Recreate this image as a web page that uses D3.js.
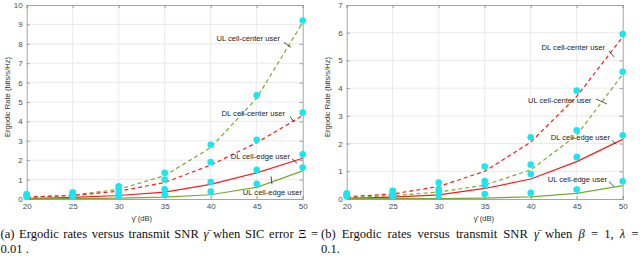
<!DOCTYPE html>
<html>
<head>
<meta charset="UTF-8">
<script src="https://d3js.org/d3.v7.min.js"></script>
<style>
  body { margin: 0; background: #fff; }
  svg { display: block; }
  .tick text { font-family: Helvetica, Arial, 'Liberation Sans', sans-serif; font-size: 8px; fill: #4d4d4d; }
  .lbl { font-family: Helvetica, Arial, 'Liberation Sans', sans-serif; font-size: 7.6px; fill: #333; }
  .note { font-family: Helvetica, Arial, 'Liberation Sans', sans-serif; font-size: 7.6px; fill: #222; }
  .cap { font-family: 'Liberation Serif', 'Times New Roman', serif; font-size: 12.6px; fill: #111; }
</style>
</head>
<body>
<svg id="chart" width="640" height="256"></svg>
<script>
// x 轴 (dB)
const snr = [20, 25, 30, 35, 40, 45, 50];
const xTicks = [20, 25, 30, 35, 40, 45, 50];

// (a) 理论曲线
const aUlCenter = [0.08, 0.2, 0.5, 1.2, 2.65, 5.2, 9.1];
const aDlCenter = [0.1, 0.18, 0.4, 0.85, 1.75, 2.9, 4.3];
const aDlEdge = [0.02, 0.08, 0.18, 0.35, 0.75, 1.35, 2.1];
const aUlEdge = [0.01, 0.02, 0.04, 0.1, 0.22, 0.6, 1.45];
// (a) 仿真点
const aUlCenterSim = [0.25, 0.35, 0.65, 1.35, 2.8, 5.35, 9.2];
const aDlCenterSim = [0.2, 0.3, 0.5, 1.0, 1.9, 3.05, 4.45];
const aDlEdgeSim = [0.15, 0.2, 0.3, 0.5, 0.88, 1.5, 2.3];
const aUlEdgeSim = [0.1, 0.12, 0.15, 0.22, 0.38, 0.78, 1.62];

// (b) 理论曲线
const bDlCenter = [0.08, 0.18, 0.45, 1.0, 2.05, 3.7, 5.85];
const bUlCenter = [0.05, 0.12, 0.25, 0.5, 1.05, 2.3, 4.5];
const bDlEdge = [0.02, 0.07, 0.15, 0.38, 0.72, 1.35, 2.15];
const bUlEdge = [0.005, 0.01, 0.01, 0.03, 0.08, 0.2, 0.48];
// (b) 仿真点
const bDlCenterSim = [0.2, 0.3, 0.59, 1.17, 2.23, 3.91, 5.95];
const bUlCenterSim = [0.2, 0.25, 0.35, 0.65, 1.24, 2.48, 4.59];
const bDlEdgeSim = [0.12, 0.15, 0.25, 0.5, 0.9, 1.51, 2.3];
const bUlEdgeSim = [0.1, 0.1, 0.12, 0.18, 0.22, 0.34, 0.64];

// 标注: 文字末端 (tx, ty), 指示线 (x1,y1)-(x2,y2), 数据坐标
const aNotes = [
  { text: 'UL cell-center user', tx: 47.53, ty: 8.12, x1: 47.97, y1: 8.07, x2: 48.73, y2: 7.82 },
  { text: 'DL cell-center user', tx: 48.08, ty: 4.26, x1: 48.62, y1: 4.26, x2: 49.06, y2: 3.96 },
  { text: 'DL cell-edge user', tx: 48.62, ty: 2.08, x1: 48.84, y1: 2.08, x2: 49.38, y2: 1.83 },
  { text: 'UL cell-edge user', tx: 49.93, ty: 0.2, x1: 46.56, y1: 1.17, x2: 46.66, y2: 0.76 }
];
const bNotes = [
  { text: 'DL cell-center user', tx: 48.08, ty: 5.38, x1: 48.51, y1: 5.34, x2: 49.06, y2: 5.13 },
  { text: 'UL cell-center user', tx: 46.6, ty: 3.46, x1: 47.09, y1: 3.61, x2: 48.29, y2: 3.43 },
  { text: 'DL cell-edge user', tx: 48.62, ty: 2.12, x1: 48.84, y1: 2.12, x2: 49.27, y2: 1.97 },
  { text: 'UL cell-edge user', tx: 48.29, ty: 0.63, x1: 48.51, y1: 0.63, x2: 49.06, y2: 0.45 }
];

const RED = '#ff1a1a';
const GREEN = '#77ac30';
const CYAN = '#19e6f0';

const svg = d3.select('#chart');

function panel(opt) {
  const x = d3.scaleLinear().domain([20, 50]).range([opt.left, opt.left + 276]);
  const y = d3.scaleLinear().domain([0, opt.ymax]).range([199, 5]);
  const g = svg.append('g');
  const yTicks = d3.range(0, opt.ymax + 1);

  // 网格
  g.append('g').selectAll('line').data(xTicks.slice(1, -1)).enter().append('line')
    .attr('x1', d => x(d)).attr('x2', d => x(d)).attr('y1', y(0)).attr('y2', y(opt.ymax))
    .attr('stroke', '#e3e3e3').attr('stroke-width', 0.8);
  g.append('g').selectAll('line').data(yTicks.slice(1, -1)).enter().append('line')
    .attr('x1', x(20)).attr('x2', x(50)).attr('y1', d => y(d)).attr('y2', d => y(d))
    .attr('stroke', '#e3e3e3').attr('stroke-width', 0.8);

  // 坐标轴 (四周都有)
  const axes = [
    [d3.axisBottom(x).tickValues(xTicks).tickSize(-3).tickPadding(4), `translate(0,${y(0)})`, true],
    [d3.axisTop(x).tickValues(xTicks).tickSize(-3), `translate(0,${y(opt.ymax)})`, false],
    [d3.axisLeft(y).tickValues(yTicks).tickSize(-3).tickPadding(4), `translate(${x(20)},0)`, true],
    [d3.axisRight(y).tickValues(yTicks).tickSize(-3), `translate(${x(50)},0)`, false]
  ];
  axes.forEach(([ax, tr, showText]) => {
    const a = g.append('g').attr('transform', tr).call(ax.tickFormat(d3.format('d')));
    a.select('.domain').attr('stroke', '#9a9a9a').attr('stroke-width', 0.9);
    a.selectAll('.tick line').attr('stroke', '#9a9a9a');
    if (!showText) a.selectAll('.tick text').remove();
  });

  // 曲线
  const line = d3.line().x((d, i) => x(snr[i])).y(d => y(d));
  opt.series.forEach(s => {
    g.append('path').datum(s.vals).attr('d', line).attr('fill', 'none')
      .attr('stroke', s.color).attr('stroke-width', 1.2)
      .attr('stroke-dasharray', s.dash ? '4,3' : null);
  });
  // 仿真点
  opt.sims.forEach(vals => {
    g.append('g').selectAll('circle').data(vals).enter().append('circle')
      .attr('cx', (d, i) => x(snr[i])).attr('cy', d => y(d)).attr('r', 3.3)
      .attr('fill', CYAN);
  });

  // 标注
  opt.notes.forEach(n => {
    g.append('text').attr('class', 'note').attr('x', x(n.tx)).attr('y', y(n.ty))
      .attr('text-anchor', 'end').text(n.text);
    g.append('line').attr('x1', x(n.x1)).attr('y1', y(n.y1)).attr('x2', x(n.x2)).attr('y2', y(n.y2))
      .attr('stroke', '#222').attr('stroke-width', 0.8);
  });

  // 轴标题
  g.append('text').attr('class', 'lbl').attr('x', opt.xlabX).attr('y', 221)
    .attr('text-anchor', 'middle').text('γ̄ (dB)');
  g.append('text').attr('class', 'lbl')
    .attr('transform', `translate(${opt.left - 17},97) rotate(-90)`)
    .attr('text-anchor', 'middle').text('Ergodic Rate (bits/s/Hz)');
}

panel({
  left: 26.7, ymax: 10, xlabX: 142, notes: aNotes,
  series: [
    { vals: aUlCenter, color: GREEN, dash: true },
    { vals: aDlCenter, color: RED, dash: true },
    { vals: aDlEdge, color: RED, dash: false },
    { vals: aUlEdge, color: GREEN, dash: false }
  ],
  sims: [aUlCenterSim, aDlCenterSim, aDlEdgeSim, aUlEdgeSim]
});
panel({
  left: 346.7, ymax: 7, xlabX: 484, notes: bNotes,
  series: [
    { vals: bDlCenter, color: RED, dash: true },
    { vals: bUlCenter, color: GREEN, dash: true },
    { vals: bDlEdge, color: RED, dash: false },
    { vals: bUlEdge, color: GREEN, dash: false }
  ],
  sims: [bDlCenterSim, bUlCenterSim, bDlEdgeSim, bUlEdgeSim]
});

// 图注 (两端对齐)
function caption(x0, x1, words, line2) {
  const measure = [];
  words.forEach(w => {
    const t = svg.append('text').attr('class', 'cap').attr('y', 238);
    w.forEach(p => t.append('tspan').attr('font-style', p.it ? 'italic' : null).text(p.s));
    measure.push({ node: t, w: t.node().getComputedTextLength() });
  });
  const total = d3.sum(measure, m => m.w);
  const gap = (x1 - x0 - total) / (measure.length - 1);
  let cx = x0;
  measure.forEach(m => { m.node.attr('x', cx); cx += m.w + gap; });
  svg.append('text').attr('class', 'cap').attr('x', x0).attr('y', 253).text(line2);
}
const W = s => [{ s }];
caption(0.5, 318,
  [W('(a)'), W('Ergodic'), W('rates'), W('versus'), W('transmit'), W('SNR'), [{ s: 'γ̄', it: true }],
   W('when'), W('SIC'), W('error'), W('Ξ'), W('=')], '0.01 .');
caption(321, 638.5,
  [W('(b)'), W('Ergodic'), W('rates'), W('versus'), W('transmit'), W('SNR'), [{ s: 'γ̄', it: true }],
   W('when'), [{ s: 'β', it: true }], W('='), W('1,'), [{ s: 'λ', it: true }], W('=')], '0.1.');
</script>
</body>
</html>
